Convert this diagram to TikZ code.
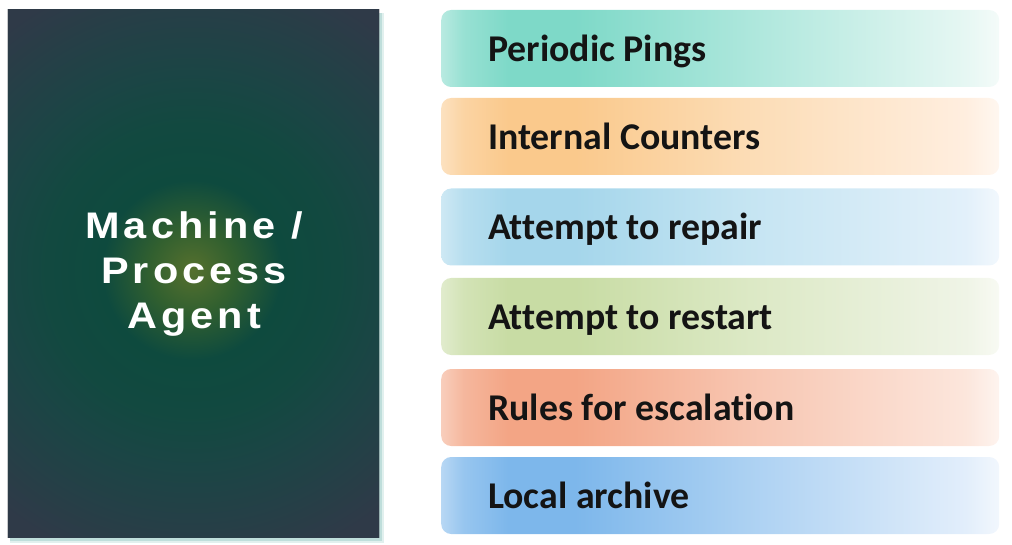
\documentclass[tikz,border=0pt]{standalone}
\usepackage{fontspec}
\newfontfamily\boxfont{Carlito}[Ligatures=NoCommon]
\newfontfamily\agentfont{Liberation Sans}[LetterSpace=11,FakeStretch=1.12]
\definecolor{slate}{HTML}{2F3A48}
\definecolor{deepgreen}{HTML}{0E4A3E}
\definecolor{olive}{HTML}{56702E}
\definecolor{midolive}{HTML}{32602F}
\definecolor{ring}{HTML}{124940}
\definecolor{outer}{HTML}{1B4545}
\definecolor{outer2}{HTML}{263F47}
\definecolor{shadowc}{HTML}{A9D3CF}
\pgfdeclareradialshading{glow}{\pgfpoint{0bp}{0bp}}{%
  color(0bp)=(olive); color(3.2bp)=(midolive); color(6.8bp)=(deepgreen);
  color(11bp)=(ring); color(15bp)=(outer); color(19.5bp)=(outer2); color(23bp)=(slate); color(50bp)=(slate)}
\newcommand\mkshade[4]{%
  \pgfdeclarehorizontalshading{#1}{100bp}{%
    color(0bp)=(#2!55!white); color(25bp)=(#2!55!white); color(27bp)=(#2!80!white);
    color(31bp)=(#2); color(37bp)=(#2); color(52bp)=(#2!65!white);
    color(72bp)=(#3); color(75bp)=(#4); color(100bp)=(#4)}}
\definecolor{cA}{HTML}{7ED9C8}\definecolor{cAe}{HTML}{E6F7F3}\definecolor{cAf}{HTML}{F4FBF9}
\definecolor{cB}{HTML}{FAC98C}\definecolor{cBe}{HTML}{FFEEDF}\definecolor{cBf}{HTML}{FFF7F0}
\definecolor{cC}{HTML}{A5D6EB}\definecolor{cCe}{HTML}{E2F0FA}\definecolor{cCf}{HTML}{F2F8FD}
\definecolor{cD}{HTML}{C8DCA4}\definecolor{cDe}{HTML}{EFF4E6}\definecolor{cDf}{HTML}{F8FAF3}
\definecolor{cE}{HTML}{F3A585}\definecolor{cEe}{HTML}{FCE6DC}\definecolor{cEf}{HTML}{FEF4EF}
\definecolor{cF}{HTML}{7DB7EB}\definecolor{cFe}{HTML}{E2EEFB}\definecolor{cFf}{HTML}{F2F7FD}
\mkshade{shA}{cA}{cAe}{cAf}
\mkshade{shB}{cB}{cBe}{cBf}
\mkshade{shC}{cC}{cCe}{cCf}
\mkshade{shD}{cD}{cDe}{cDf}
\mkshade{shE}{cE}{cEe}{cEf}
\mkshade{shF}{cF}{cFe}{cFf}
\begin{document}
\begin{tikzpicture}[x=1pt,y=-1pt,
  itembox/.style={rectangle, rounded corners=10pt, minimum width=558pt,
    minimum height=77pt, inner sep=0pt, anchor=west},
  itemlbl/.style={anchor=base west, inner sep=0pt, font=\boxfont\bfseries\fontsize{37.8}{40}\selectfont, text=black!92},
  agentlbl/.style={anchor=base, inner sep=0pt, text=white,
    font=\agentfont\bfseries\fontsize{37}{45}\selectfont}]
\useasboundingbox (0,0) rectangle (1012,545);
% shadow of panel
\fill[shadowc, opacity=0.35] (10,13) rectangle (384,543);
\fill[shadowc, opacity=0.6] (10,13) rectangle (382,541);
% panel
\node[rectangle, minimum width=371pt, minimum height=527pt, inner sep=0pt, fill=slate] (panel) at (193.5,273.5) {};
\begin{scope}
  \clip (panel.south west) rectangle (panel.north east);
  \fill[shading=glow] (192,270) circle (330);
\end{scope}
\node[agentlbl] (a1) at (194,238.3) {Machine /};
\node[agentlbl] (a2) at (194,283.3) {Process};
\node[agentlbl] (a3) at (194,328.3) {Agent};
% item boxes
\node[itembox, shading=shA] (b1) at (441,48.5) {};
\node[itembox, shading=shB] (b2) at (441,136.5) {};
\node[itembox, shading=shC] (b3) at (441,227) {};
\node[itembox, shading=shD] (b4) at (441,316.5) {};
\node[itembox, shading=shE] (b5) at (441,407.5) {};
\node[itembox, shading=shF] (b6) at (441,495.5) {};
\node[itemlbl] (t1) at ([xshift=47pt,yshift=-13pt]b1.west) {Periodic Pings};
\node[itemlbl] (t2) at ([xshift=47pt,yshift=-13pt]b2.west) {Internal Counters};
\node[itemlbl] (t3) at ([xshift=47pt,yshift=-13pt]b3.west) {Attempt to repair};
\node[itemlbl] (t4) at ([xshift=47pt,yshift=-13pt]b4.west) {Attempt to restart};
\node[itemlbl] (t5) at ([xshift=47pt,yshift=-13pt]b5.west) {Rules for escalation};
\node[itemlbl] (t6) at ([xshift=47pt,yshift=-13pt]b6.west) {Local archive};
\end{tikzpicture}
\end{document}
